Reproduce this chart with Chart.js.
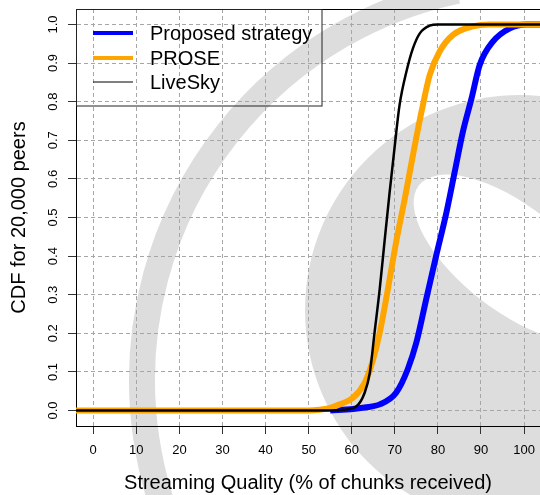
<!DOCTYPE html>
<html>
<head>
<meta charset="utf-8">
<script src="https://cdn.jsdelivr.net/npm/chart.js@4.4.1/dist/chart.umd.min.js"></script>
<style>
  html, body { margin: 0; padding: 0; background: #fff; }
</style>
</head>
<body>
<canvas id="cdf-chart" width="540" height="495"></canvas>
<script>
const fontFamily = '"Liberation Sans", Arial, Helvetica, sans-serif';

const seriesLabels = ['Proposed strategy', 'PROSE', 'LiveSky'];
const seriesColors = ['#0000ff', '#ffa500', '#000000'];

// points: x = % of chunks received, y = CDF
const proposedX = [55, 60.3, 63, 66.5, 70.3, 73.0, 75.0, 77.3, 79.6, 82.0, 83.9, 85.8, 87.8, 89.7, 92.8, 96.7, 100.5, 110];
const proposedY = [0, 0.004, 0.008, 0.016, 0.046, 0.107, 0.176, 0.289, 0.401, 0.514, 0.618, 0.722, 0.808, 0.895, 0.956, 0.990, 1.0, 1.0];

const proseX = [-10, 50, 52.5, 55, 57.2, 60.3, 63.0, 64.5, 66.5, 68.4, 70.3, 72.3, 74.2, 76.2, 78.1, 80.4, 83.5, 88.1, 92, 110];
const proseY = [0, 0, 0.002, 0.007, 0.016, 0.033, 0.072, 0.115, 0.202, 0.315, 0.436, 0.548, 0.661, 0.774, 0.869, 0.930, 0.973, 0.995, 1.0, 1.0];

const liveskyX = [-10, 55, 58, 61.1, 63.0, 64.2, 65.3, 66.5, 67.6, 68.8, 70.0, 71.1, 72.7, 74.2, 75.8, 78.1, 80, 110];
const liveskyY = [0, 0, 0.002, 0.011, 0.046, 0.098, 0.202, 0.315, 0.436, 0.566, 0.687, 0.791, 0.878, 0.938, 0.977, 0.997, 1.0, 1.0];

const xTicks = [0, 10, 20, 30, 40, 50, 60, 70, 80, 90, 100];
const xTickLabels = ['0', '10', '20', '30', '40', '50', '60', '70', '80', '90', '100'];
const yTicks = [0, 0.1, 0.2, 0.3, 0.4, 0.5, 0.6, 0.7, 0.8, 0.9, 1.0];
const yTickLabels = ['0.0', '0.1', '0.2', '0.3', '0.4', '0.5', '0.6', '0.7', '0.8', '0.9', '1.0'];

const xTitle = 'Streaming Quality (% of chunks received)';
const yTitle = 'CDF for 20,000 peers';

function toPoints(xs, ys) {
    return xs.map((x, i) => ({ x: x, y: ys[i] }));
}

// grey publisher watermark behind the plot, plus R-style box, y labels and legend
const paperPlugin = {
    id: 'paper',
    beforeDraw(chart) {
        const ctx = chart.ctx;
        ctx.save();
        ctx.fillStyle = '#ffffff';
        ctx.fillRect(0, 0, chart.width, chart.height);
        ctx.fillStyle = '#dddddd';
        ctx.beginPath();
        ctx.arc(520, 310, 215, 0, Math.PI * 2);
        ctx.fill();
        ctx.fillStyle = '#ffffff';
        ctx.beginPath();
        ctx.ellipse(512, 258, 118, 52, 38 * Math.PI / 180, 0, Math.PI * 2);
        ctx.fill();
        ctx.strokeStyle = '#dddddd';
        ctx.lineWidth = 26;
        ctx.beginPath();
        ctx.arc(540, 380, 398, 150 * Math.PI / 180, 258 * Math.PI / 180);
        ctx.stroke();
        ctx.restore();
    },
    afterDraw(chart) {
        const ctx = chart.ctx;
        const area = chart.chartArea;
        const yScale = chart.scales.y;
        ctx.save();

        // top edge of the box
        ctx.strokeStyle = '#000';
        ctx.lineWidth = 1;
        ctx.beginPath();
        ctx.moveTo(area.left, area.top + 0.5);
        ctx.lineTo(area.right, area.top + 0.5);
        ctx.stroke();

        // rotated y tick labels
        ctx.fillStyle = '#000';
        ctx.font = '13px ' + fontFamily;
        ctx.textAlign = 'center';
        ctx.textBaseline = 'middle';
        yTicks.forEach((v, i) => {
            const py = yScale.getPixelForValue(v);
            ctx.save();
            ctx.translate(53, py);
            ctx.rotate(-Math.PI / 2);
            ctx.fillText(yTickLabels[i], 0, 0);
            ctx.restore();
        });

        // legend box
        ctx.strokeStyle = '#222';
        ctx.strokeRect(area.left + 0.5, area.top + 0.5, 245.5, 96.5);
        const rows = [33, 58, 82];
        const legendWidths = [4, 4, 1];
        ctx.font = '20px ' + fontFamily;
        ctx.textAlign = 'left';
        chart.data.datasets.forEach((ds, i) => {
            ctx.strokeStyle = ds.borderColor;
            ctx.lineWidth = legendWidths[i];
            ctx.beginPath();
            ctx.moveTo(93, rows[i]);
            ctx.lineTo(133, rows[i]);
            ctx.stroke();
            ctx.fillStyle = '#000';
            ctx.fillText(ds.label, 150, rows[i] + 1);
        });
        ctx.restore();
    }
};

const ctx = document.getElementById('cdf-chart').getContext('2d');

const cdfChart = new Chart(ctx, {
    type: 'line',
    data: {
        datasets: [
            {
                label: seriesLabels[0],
                data: toPoints(proposedX, proposedY),
                borderColor: seriesColors[0],
                borderWidth: 6,
                order: 3
            },
            {
                label: seriesLabels[1],
                data: toPoints(proseX, proseY),
                borderColor: seriesColors[1],
                borderWidth: 6,
                order: 2
            },
            {
                label: seriesLabels[2],
                data: toPoints(liveskyX, liveskyY),
                borderColor: seriesColors[2],
                borderWidth: 2.5,
                order: 1
            }
        ]
    },
    options: {
        responsive: false,
        animation: false,
        devicePixelRatio: 1,
        clip: 0,
        layout: { padding: { top: 9, right: 0, bottom: 0, left: 0 } },
        elements: {
            point: { radius: 0, hoverRadius: 0 },
            line: { cubicInterpolationMode: 'monotone', fill: false, borderCapStyle: 'butt' }
        },
        plugins: {
            legend: { display: false },
            tooltip: { enabled: false }
        },
        scales: {
            x: {
                type: 'linear',
                min: -4,
                max: 103.7,
                afterBuildTicks: (scale) => { scale.ticks = xTicks.map(v => ({ value: v })); },
                afterFit: (scale) => {
                    scale.height = 69;
                    scale.paddingLeft = 0;
                    scale.paddingRight = 0;
                },
                grid: {
                    color: '#a6a6a6',
                    lineWidth: 1,
                    tickColor: '#333',
                    tickLength: 8,
                    tickWidth: 1,
                    tickBorderDash: []
                },
                border: { display: true, color: '#000', width: 1, dash: [4, 3] },
                ticks: {
                    color: '#000',
                    font: { family: fontFamily, size: 13 },
                    padding: 9,
                    maxRotation: 0,
                    autoSkip: false,
                    callback: (value, index) => xTickLabels[index]
                },
                title: {
                    display: true,
                    text: xTitle,
                    color: '#000',
                    font: { family: fontFamily, size: 20 },
                    padding: { top: 0, bottom: 0 }
                }
            },
            y: {
                type: 'linear',
                min: -0.04,
                max: 1.04,
                afterBuildTicks: (scale) => { scale.ticks = yTicks.map(v => ({ value: v })); },
                afterFit: (scale) => {
                    scale.width = 76;
                    scale.paddingTop = 0;
                    scale.paddingBottom = 0;
                },
                grid: {
                    color: '#a6a6a6',
                    lineWidth: 1,
                    tickColor: '#333',
                    tickLength: 8,
                    tickWidth: 1,
                    tickBorderDash: []
                },
                border: { display: true, color: '#000', width: 1, dash: [4, 3] },
                ticks: {
                    color: 'rgba(0,0,0,0)',
                    font: { family: fontFamily, size: 13 },
                    autoSkip: false,
                    callback: (value, index) => yTickLabels[index]
                },
                title: {
                    display: true,
                    text: yTitle,
                    color: '#000',
                    font: { family: fontFamily, size: 20 },
                    padding: { top: 7, bottom: 0 }
                }
            }
        }
    },
    plugins: [paperPlugin]
});
</script>
</body>
</html>
